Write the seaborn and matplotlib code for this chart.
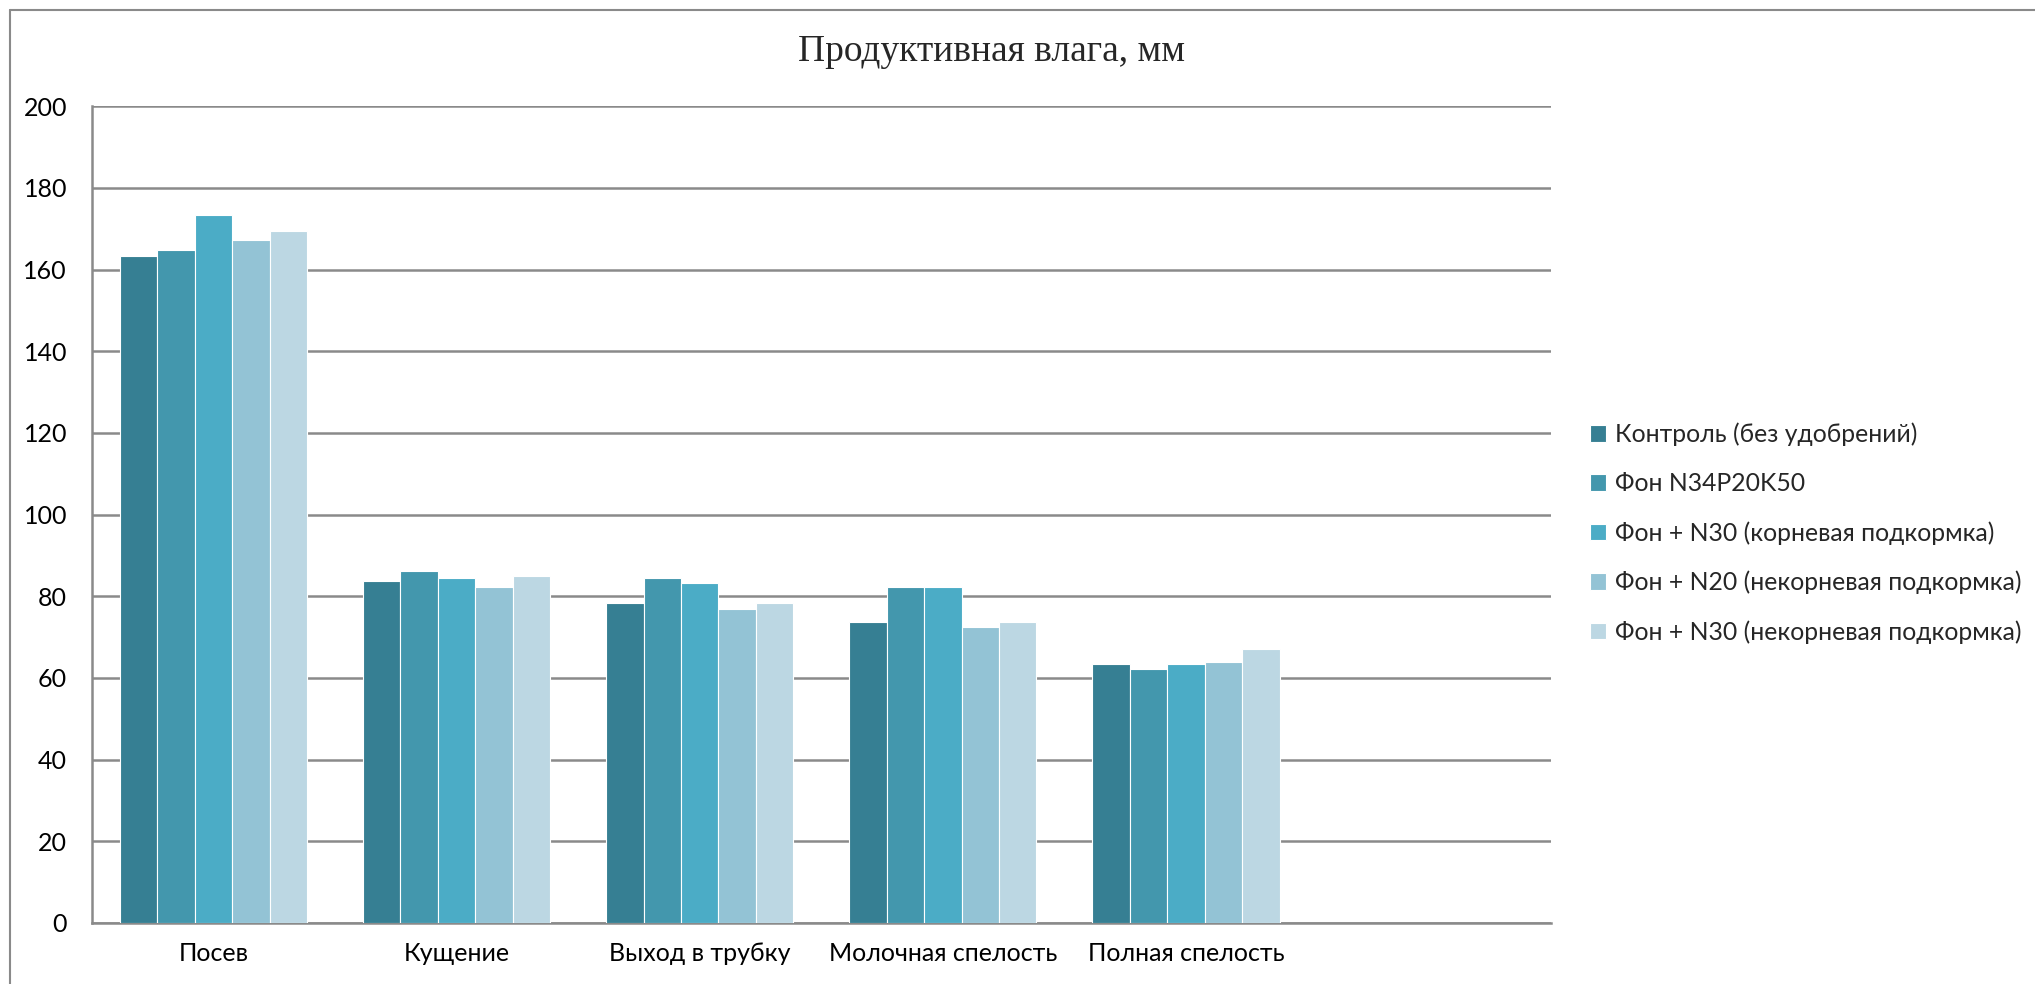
import pandas as pd
import seaborn as sns
import matplotlib.pyplot as plt
from matplotlib.lines import Line2D

# Data
stages = ['Посев', 'Кущение', 'Выход в трубку', 'Молочная спелость', 'Полная спелость']
treatments = [
    'Контроль (без удобрений)',
    'Фон N34P20K50',
    'Фон + N30 (корневая подкормка)',
    'Фон + N20 (некорневая подкормка)',
    'Фон + N30 (некорневая подкормка)',
]
control = [163.4, 83.7, 78.3, 73.6, 63.4]
fon = [164.7, 86.3, 84.4, 82.4, 62.2]
n30_root = [173.3, 84.5, 83.3, 82.2, 63.5]
n20_foliar = [167.3, 82.3, 76.9, 72.4, 63.8]
n30_foliar = [169.4, 85.0, 78.3, 73.7, 67.2]
y_ticks = list(range(0, 201, 20))

colors = ['#367F93', '#4397AD', '#4BACC6', '#93C3D5', '#BCD7E3']

rows = []
for name, vals in zip(treatments, [control, fon, n30_root, n20_foliar, n30_foliar]):
    for stage, v in zip(stages, vals):
        rows.append({'stage': stage, 'treatment': name, 'value': v})
df = pd.DataFrame(rows)

sns.set_theme(style='white')
plt.rcParams['font.family'] = ['Lato', 'DejaVu Sans']

fig = plt.figure(figsize=(20.35, 9.84), dpi=100)
ax = fig.add_axes([0.0452, 0.062, 0.7168, 0.830])

sns.barplot(data=df, x='stage', y='value', hue='treatment', order=stages,
            hue_order=treatments, palette=colors, width=0.77, saturation=1,
            edgecolor='white', linewidth=0.8, ax=ax, zorder=3)

ax.set_xlim(-0.5, 5.5)
ax.set_ylim(0, 200)
ax.set_yticks(y_ticks)
ax.yaxis.grid(True, color='#8a8a8a', linewidth=1.8, zorder=0)
ax.set_axisbelow(True)
ax.set_xlabel('')
ax.set_ylabel('')
ax.tick_params(axis='y', labelsize=18, pad=18, length=0, colors='black')
ax.tick_params(axis='x', labelsize=18, pad=14, length=0, colors='black')

for side in ['top', 'right']:
    ax.spines[side].set_visible(False)
for side in ['left', 'bottom']:
    ax.spines[side].set_color('#8a8a8a')
    ax.spines[side].set_linewidth(1.8)

ax.legend(loc='center left', bbox_to_anchor=(0.7705, 0.458),
          bbox_transform=fig.transFigure, frameon=False, fontsize=17.8,
          handlelength=0.65, handleheight=0.65, handletextpad=0.35,
          labelspacing=1.05)

fig.suptitle('Продуктивная влага, мм', x=0.487, y=0.965,
             fontsize=27, family=['Liberation Serif', 'DejaVu Serif'])

# Outer chart frame (left and top edges)
fig.add_artist(Line2D([0.005, 0.005], [0.0, 0.99], transform=fig.transFigure,
                      color='#8a8a8a', linewidth=1.5))
fig.add_artist(Line2D([0.005, 1.0], [0.99, 0.99], transform=fig.transFigure,
                      color='#8a8a8a', linewidth=1.5))

fig.savefig('out.png', dpi=100)
